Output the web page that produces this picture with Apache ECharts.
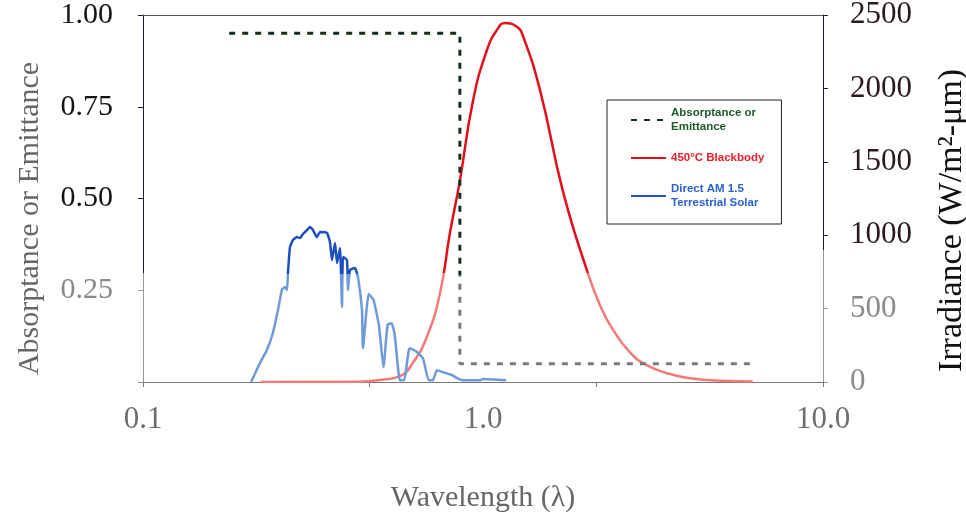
<!DOCTYPE html>
<html>
<head>
<meta charset="utf-8">
<title>Absorptance and irradiance vs wavelength</title>
<script src="https://cdn.jsdelivr.net/npm/echarts@6/dist/echarts.min.js"></script>
<style>
    html, body { margin: 0; padding: 0; background: #fff; }
    #chart { width: 966px; height: 518px; }
</style>
</head>
<body>
<div id="chart"></div>
<script>
'use strict';

// wavelength in um
var absorptance = [[0.24, 0.95], [2.5, 0.95], [2.5, 0.05], [50, 0.05]];

var blackbody = [
    [0.33, 0], [0.9, 2], [1.11, 14], [1.36, 40], [1.55, 130], [1.79, 310],
    [2.04, 600], [2.26, 1015], [2.5, 1370], [2.86, 1920], [3.29, 2260],
    [3.64, 2397], [3.95, 2445], [4.46, 2420], [4.75, 2355], [5.64, 1990],
    [7.12, 1300], [9.09, 760], [10.4, 520], [11.8, 360], [14.1, 200],
    [16.7, 115], [20.5, 60], [25.9, 25], [36.2, 8], [49, 4]
];

var solar = [
    [0.30, 0], [0.328, 129], [0.352, 218], [0.374, 334], [0.394, 490], [0.41, 627],
    [0.423, 647], [0.432, 627], [0.436, 742], [0.445, 919], [0.459, 967], [0.478, 987],
    [0.493, 981], [0.508, 1008], [0.529, 1035], [0.545, 1056], [0.562, 1035], [0.585, 987],
    [0.604, 1022], [0.648, 1015], [0.668, 953], [0.682, 831], [0.703, 947], [0.718, 810],
    [0.74, 913], [0.755, 511], [0.763, 851], [0.794, 831], [0.802, 627], [0.819, 763],
    [0.861, 776], [0.888, 715], [0.925, 490], [0.934, 230], [0.99, 600], [1.04, 560],
    [1.1, 380], [1.15, 100], [1.2, 390], [1.25, 400], [1.29, 320], [1.36, 12],
    [1.42, 12], [1.5, 230], [1.6, 210], [1.72, 160], [1.82, 12], [1.9, 12],
    [1.98, 80], [2.1, 68], [2.3, 48], [2.43, 27], [2.58, 12], [3.07, 12],
    [3.16, 20], [4.0, 12]
];

var xTickLabels = ['0.1', '1.0', '10.0'];
var seriesNames = ['Absorptance or\nEmittance', '450°C Blackbody', 'Direct AM 1.5\nTerrestrial Solar'];

var H = 518;
var SERIF = 'Liberation Serif';

// the lower part of the scan is washed out, so colours switch at a fixed height
function fade(dark, light, edge) {
    var k = edge / H;
    return new echarts.graphic.LinearGradient(0, 0, 0, H, [
        {offset: 0, color: dark},
        {offset: k, color: dark},
        {offset: k, color: light},
        {offset: 1, color: light}
    ], true);
}

var chart = echarts.init(document.getElementById('chart'), null, {renderer: 'canvas'});

var option = {
    animation: false,
    backgroundColor: '#fff',
    grid: {left: 143, right: 143, top: 15, bottom: 136, outerBoundsMode: 'none'},
    legend: {
        orient: 'vertical',
        left: 607,
        top: 100,
        padding: [6, 17, 14, 23],
        itemGap: 17,
        itemWidth: 35,
        itemHeight: 10,
        borderColor: '#222',
        borderWidth: 1,
        backgroundColor: '#fff',
        itemStyle: {opacity: 0},
        textStyle: {fontFamily: 'Liberation Sans', fontWeight: 'bold', fontSize: 11.5, lineHeight: 14},
        data: [
            {name: seriesNames[0], textStyle: {color: '#1f5a2c'}},
            {name: seriesNames[1], textStyle: {color: '#e8202a'}},
            {name: seriesNames[2], textStyle: {color: '#2a62d0'}}
        ]
    },
    xAxis: [{
        type: 'log',
        logBase: 10,
        min: 0.1,
        max: 100,
        position: 'bottom',
        axisLine: {lineStyle: {color: '#777'}},
        axisTick: {length: 5, lineStyle: {color: '#777'}},
        axisLabel: {show: false},
        splitLine: {show: false},
        name: 'Wavelength (λ)',
        nameLocation: 'middle',
        nameGap: 101,
        nameTextStyle: {fontFamily: SERIF, fontSize: 30, color: '#666'}
    }, {
        // label axis as printed on the figure
        type: 'log',
        logBase: 10,
        min: 0.1,
        max: 10,
        position: 'bottom',
        axisLine: {show: false},
        axisTick: {show: false},
        splitLine: {show: false},
        axisLabel: {
            margin: 22,
            fontFamily: SERIF,
            fontSize: 31,
            color: '#6e6e6e',
            formatter: function(v, i) { return xTickLabels[i]; }
        }
    }, {
        type: 'value',
        position: 'top',
        min: 0,
        max: 1,
        axisLine: {lineStyle: {color: '#555'}},
        axisTick: {show: false},
        axisLabel: {show: false},
        splitLine: {show: false}
    }],
    yAxis: [{
        type: 'value',
        min: 0,
        max: 1,
        interval: 0.25,
        position: 'left',
        axisLine: {show: true, lineStyle: {color: fade('#1c1f33', '#999', 273)}},
        axisTick: {show: true, length: 5, lineStyle: {color: fade('#222', '#999', 273)}},
        axisLabel: {
            margin: 30,
            padding: [8, 0, 0, 0],
            fontFamily: SERIF,
            fontSize: 30,
            color: function(v) { return v > 0.3 ? '#151515' : '#8a8a8a'; },
            formatter: function(v) { return v === 0 ? '' : v.toFixed(2); }
        },
        splitLine: {show: false},
        name: 'Absorptance or Emittance',
        nameLocation: 'middle',
        nameRotate: 90,
        nameGap: 98,
        nameTextStyle: {fontFamily: SERIF, fontSize: 30, color: '#666', padding: [0, 40, 0, 0]}
    }, {
        type: 'value',
        min: 0,
        max: 2500,
        interval: 500,
        position: 'right',
        axisLine: {show: true, lineStyle: {color: fade('#1c1f33', '#999', 250)}},
        axisTick: {show: true, length: 5, lineStyle: {color: fade('#222', '#999', 250)}},
        axisLabel: {
            margin: 27,
            fontFamily: SERIF,
            fontSize: 31,
            color: function(v) { return v > 700 ? '#2a1a1e' : '#8a8a8a'; },
            formatter: function(v) { return String(v); }
        },
        splitLine: {show: false},
        name: 'Irradiance (W/m²-μm)',
        nameLocation: 'middle',
        nameRotate: 90,
        nameGap: 112,
        nameTextStyle: {fontFamily: SERIF, fontSize: 34, color: '#111', padding: [0, 44, 0, 0]}
    }],
    series: [{
        name: seriesNames[0],
        type: 'line',
        xAxisIndex: 0,
        yAxisIndex: 0,
        data: absorptance,
        showSymbol: false,
        symbol: 'none',
        lineStyle: {width: 3, type: [6, 7], color: fade('#12301a', '#7a7a7a', 275)},
        itemStyle: {color: '#12301a'},
        z: 3
    }, {
        name: seriesNames[1],
        type: 'line',
        xAxisIndex: 0,
        yAxisIndex: 1,
        data: blackbody,
        smooth: 0.5,
        showSymbol: false,
        symbol: 'none',
        lineStyle: {width: 2.5, color: fade('#e3101c', '#f47a7a', 273)},
        itemStyle: {color: '#e3101c'},
        z: 2
    }, {
        name: seriesNames[2],
        type: 'line',
        xAxisIndex: 0,
        yAxisIndex: 1,
        data: solar,
        smooth: 0.15,
        showSymbol: false,
        symbol: 'none',
        lineStyle: {width: 2.5, join: 'round', color: fade('#1e4fc0', '#6f9ad8', 274)},
        itemStyle: {color: '#1e4fc0'},
        z: 2
    }]
};

chart.setOption(option);
</script>
</body>
</html>
